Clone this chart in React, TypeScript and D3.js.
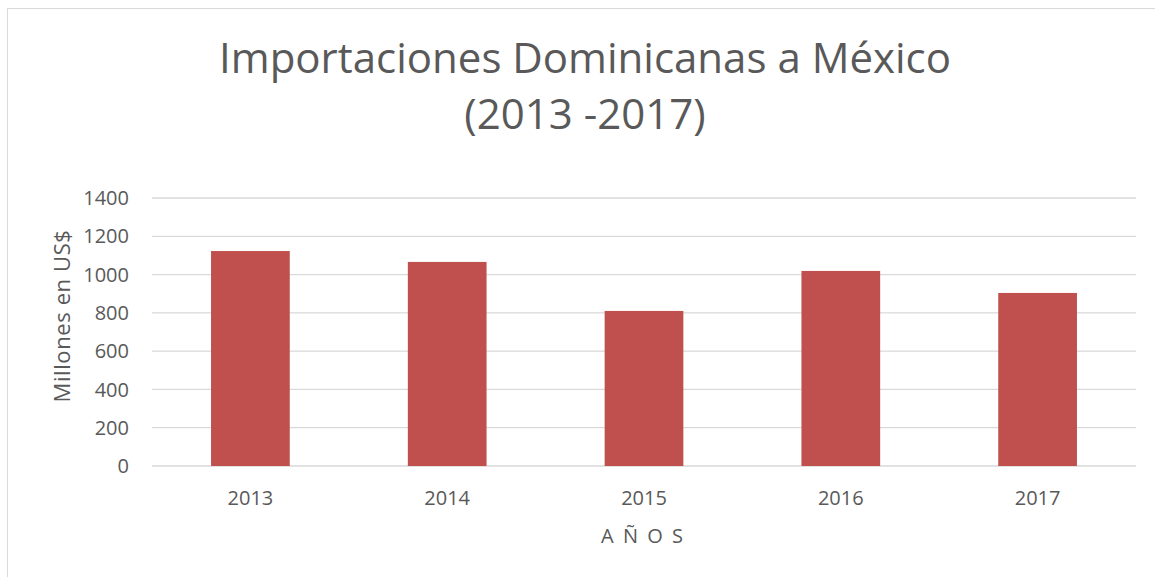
import React from "react";
import * as d3 from "d3";

const categories = ["2013", "2014", "2015", "2016", "2017"];
const values = [1123, 1066, 810, 1019, 904];
const yTicks = [0, 200, 400, 600, 800, 1000, 1200, 1400];
const titleLines = ["Importaciones Dominicanas a México", "(2013 -2017)"];
const yAxisTitle = "Millones en US$";
const xAxisTitle = "A Ñ O S";

const W = 1155;
const H = 577;
const M = { left: 152, right: 1136, top: 198, bottom: 466 };
const FONT = "'Open Sans', sans-serif";
const TXT = "#595959";

export default function App() {
  const x = d3.scaleBand<string>().domain(categories).range([M.left, M.right]).paddingInner(0.6).paddingOuter(0.3);
  const y = d3.scaleLinear().domain([0, 1400]).range([M.bottom, M.top]);
  return (
    <svg width={W} height={H} style={{ position: "absolute", left: 0, top: 0, background: "#fff" }} fontFamily={FONT}>
      <rect x={7.5} y={8.5} width={1160} height={600} fill="#fff" stroke="#d9d9d9" strokeWidth={1} />
      {titleLines.map((t, i) => (
        <text key={i} x={585} y={73 + i * 56} textAnchor="middle" fontSize={42} fill={TXT}>{t}</text>
      ))}
      {yTicks.map((v) => (
        <g key={v}>
          <line x1={M.left} x2={M.right} y1={y(v)} y2={y(v)} stroke="#d9d9d9" strokeWidth={1.3} />
          <text x={129} y={y(v)} dy="0.36em" textAnchor="end" fontSize={20} fill={TXT}>{v}</text>
        </g>
      ))}
      {categories.map((c, i) => (
        <g key={c}>
          <rect x={x(c)} y={y(values[i])} width={x.bandwidth()} height={y(0) - y(values[i])} fill="#c0504d" />
          <text x={(x(c) as number) + x.bandwidth() / 2} y={505} textAnchor="middle" fontSize={20} fill={TXT}>{c}</text>
        </g>
      ))}
      <text x={643} y={543} textAnchor="middle" fontSize={20} fill={TXT} letterSpacing="2">{xAxisTitle}</text>
      <text transform={`translate(70,${(227 + 405) / 2}) rotate(-90)`} textAnchor="middle" fontSize={22} fill={TXT} letterSpacing="0.6">{yAxisTitle}</text>
    </svg>
  );
}
